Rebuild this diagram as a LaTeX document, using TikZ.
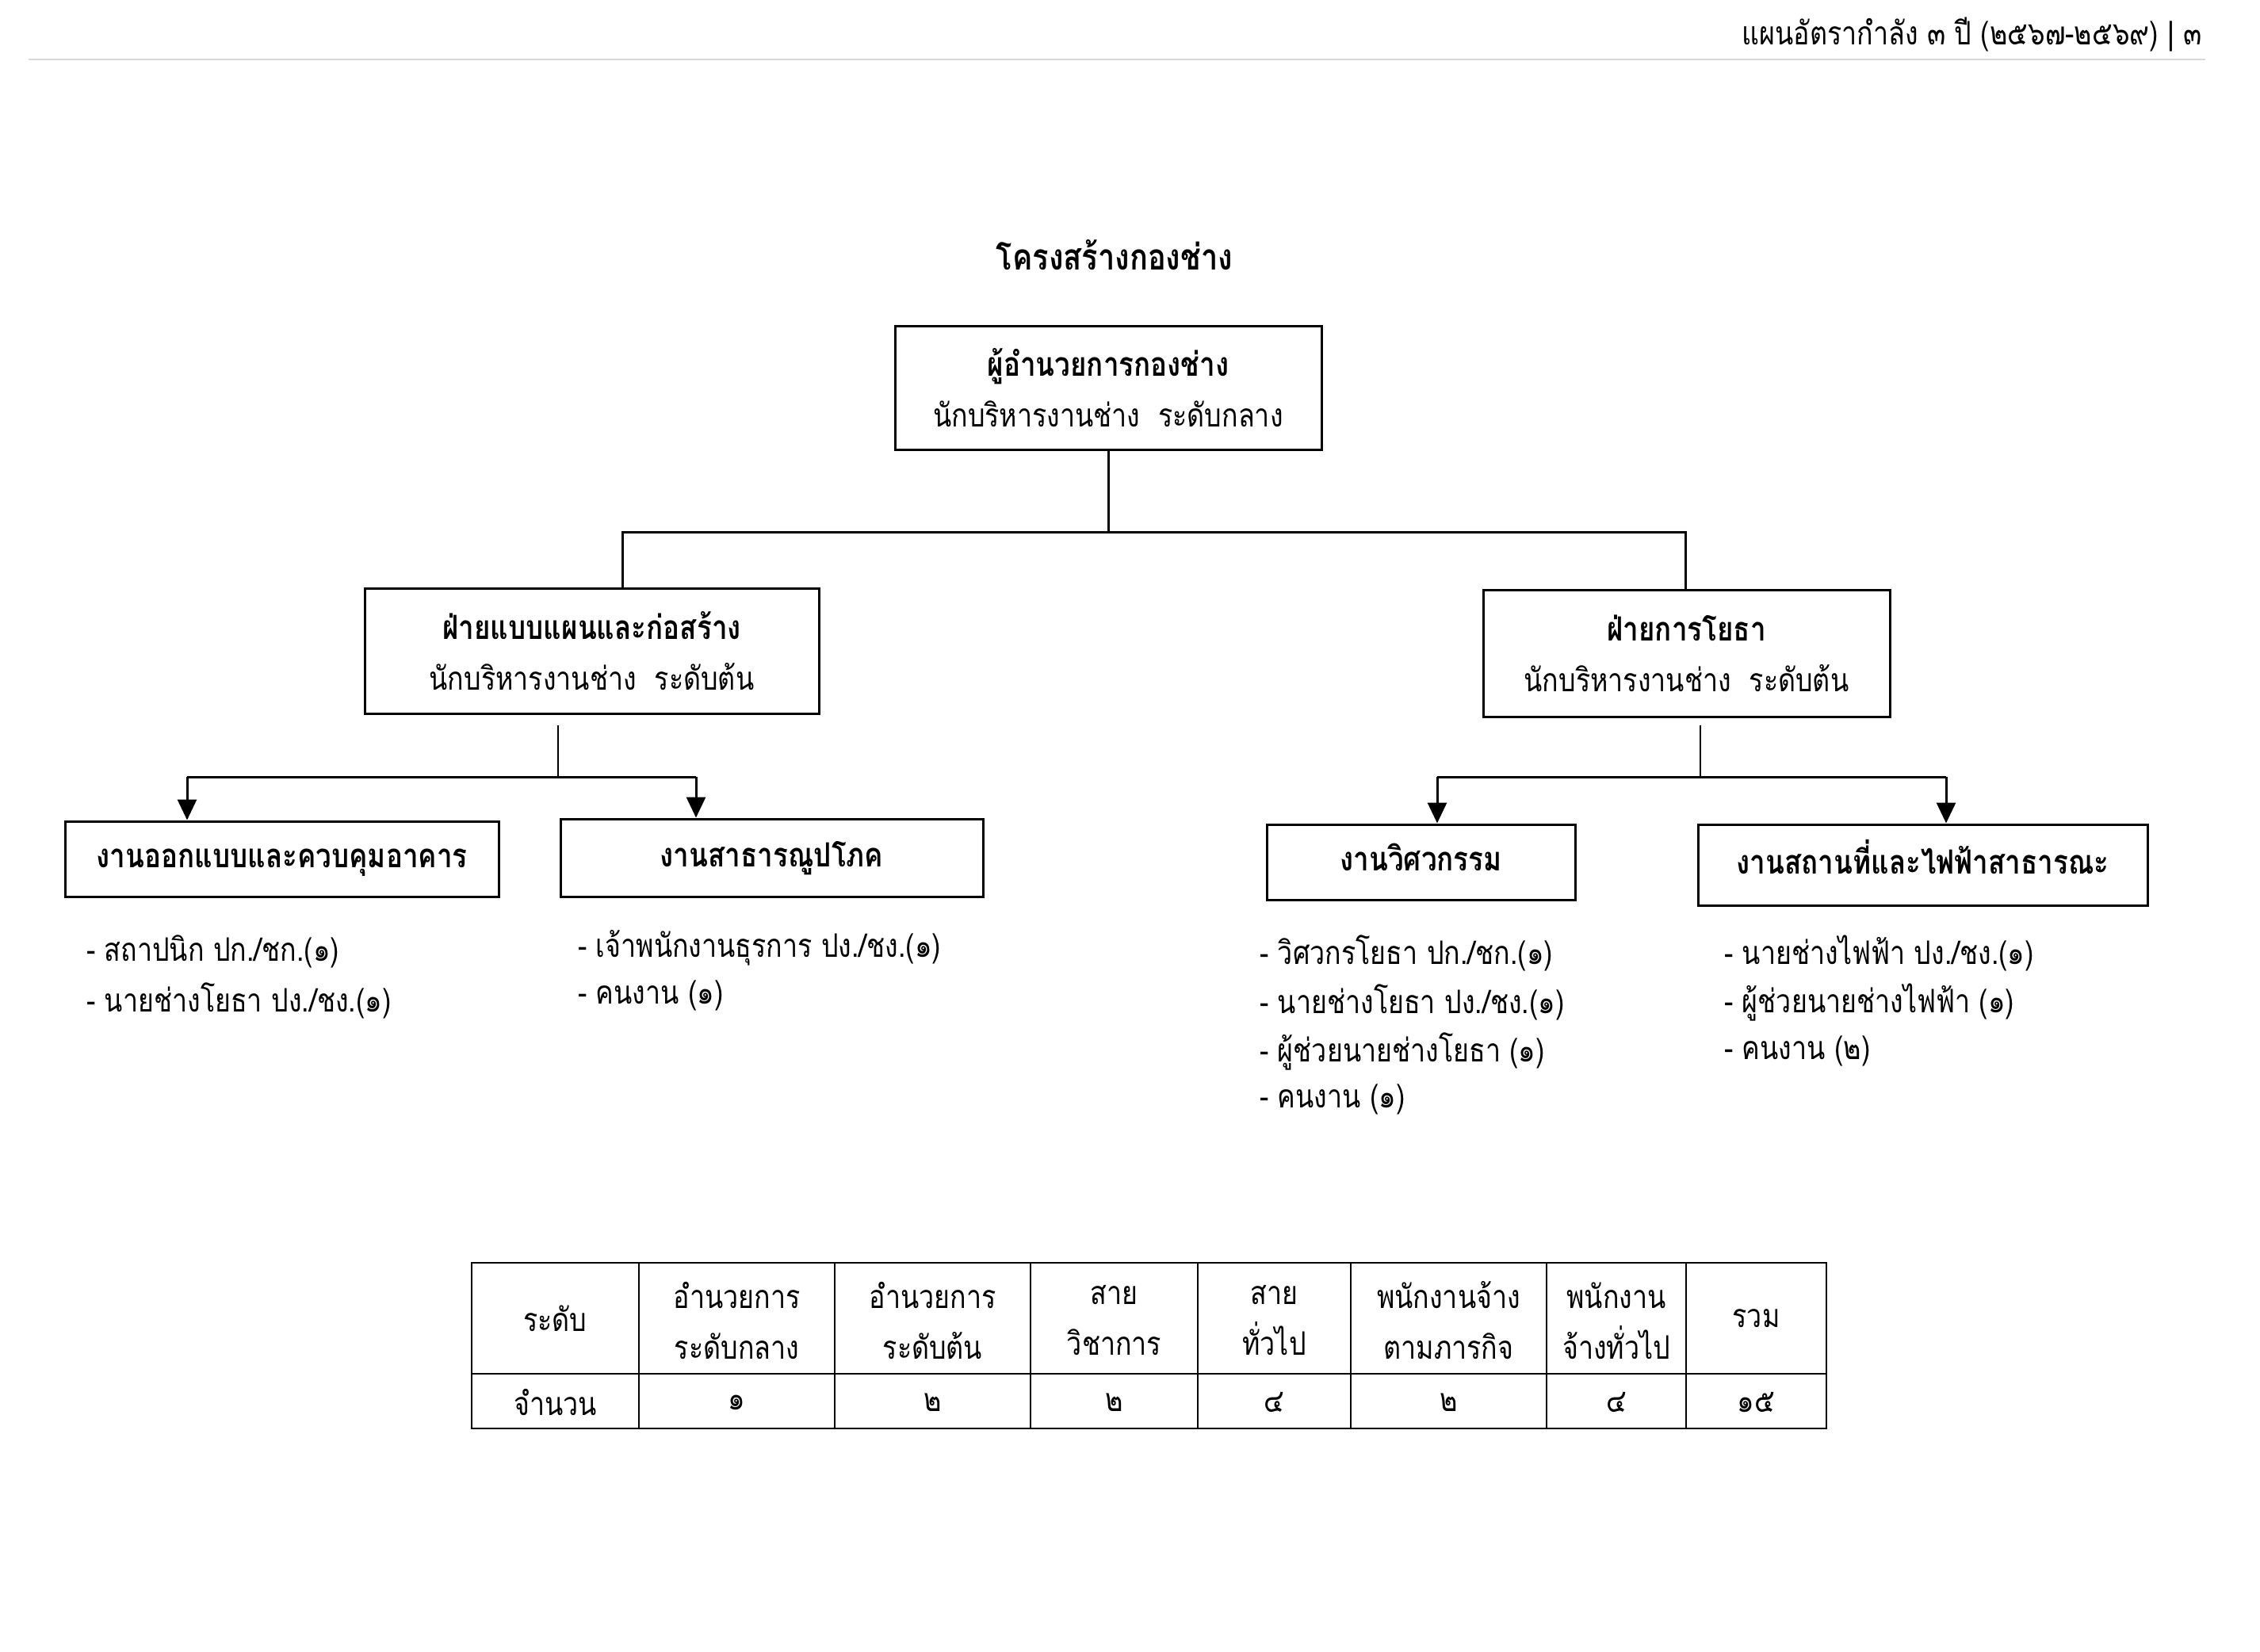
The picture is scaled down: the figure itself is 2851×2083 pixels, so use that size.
\documentclass[tikz,border=0pt]{standalone}
\usepackage{graphicx}
\usepackage{fontspec}
\newfontfamily\thai[Script=Thai]{Loma}
\newcommand\ys[1]{\scalebox{1}[1.2]{#1}}
\newcommand\bs[1]{\scalebox{1}[1.2]{\bfseries\fontsize{35}{64}\selectfont #1}}
\newcommand\bsl[1]{\raisebox{-11pt}[0pt][0pt]{\bs{#1}}}
\usetikzlibrary{arrows.meta}
\begin{document}
\begin{tikzpicture}[x=1pt,y=-1pt,
  txt/.style={font=\thai\fontsize{34}{64}\selectfont, align=center, inner sep=0pt},
  box/.style={draw, line width=3pt, txt},
  conn/.style={line width=3pt},
  thin/.style={line width=2pt},
  arr/.style={line width=3pt, -{Triangle[length=26pt,width=24pt]}},
  item/.style={txt, anchor=west, align=left},
  cell/.style={txt},
  tline/.style={line width=2pt}
]
\useasboundingbox (0,0) rectangle (2851,2083);
% header
\node[txt, anchor=east] (hdr) at (2778,44) {\ys{แผนอัตรากำลัง ๓ ปี (๒๕๖๗-๒๕๖๙) | ๓}};
\coordinate (hl) at (36,75);
\coordinate (hr) at (2782,75);
\draw[line width=2pt, black!15] (hl) -- (hr);
% title
\node[txt, font=\thai\bfseries\fontsize{38}{64}\selectfont] (title) at (1406,322) {\scalebox{1}[1.2]{โครงสร้างกองช่าง}};
% boxes
\node[box, minimum width=538, minimum height=156] (top) at (1398,489) {\bs{ผู้อำนวยการกองช่าง}\\\ys{นักบริหารงานช่าง\ \ ระดับกลาง}};
\node[box, minimum width=573, minimum height=158] (lm) at (746.5,821) {\bs{ฝ่ายแบบแผนและก่อสร้าง}\\\ys{นักบริหารงานช่าง\ \ ระดับต้น}};
\node[box, minimum width=513, minimum height=160] (rm) at (2127.5,824) {\bs{ฝ่ายการโยธา}\\\ys{นักบริหารงานช่าง\ \ ระดับต้น}};
\node[box, minimum width=547, minimum height=95] (ba) at (355.5,1083.5) {\bsl{งานออกแบบและควบคุมอาคาร}};
\node[box, minimum width=533, minimum height=98] (bb) at (973.5,1082) {\bsl{งานสาธารณูปโภค}};
\node[box, minimum width=389, minimum height=95] (bc) at (1792.5,1087.5) {\bsl{งานวิศวกรรม}};
\node[box, minimum width=567, minimum height=102] (bd) at (2425.5,1091) {\bsl{งานสถานที่และไฟฟ้าสาธารณะ}};
% top connectors
\coordinate (jl) at (785,671);
\coordinate (jr) at (2126,671);
\draw[conn] (top.south) -- (top.south |- jl);
\draw[conn] (jl |- lm.north) -- (jl) -- (jr) -- (jr |- rm.north);
% left sub connectors
\coordinate (ls) at (704,915);
\coordinate (la) at (236,980);
\coordinate (lb) at (878,980);
\draw[thin] (ls) -- (ls |- la);
\draw[conn] (la) -- (lb);
\draw[arr] (la) -- (la |- ba.north);
\draw[arr] (lb) -- (lb |- bb.north);
% right sub connectors
\coordinate (rs) at (2145,915);
\coordinate (rc) at (1813,980);
\coordinate (rd) at (2455,980);
\draw[thin] (rs) -- (rs |- rc);
\draw[conn] (rc) -- (rd);
\draw[arr] (rc) -- (rc |- bc.north);
\draw[arr] (rd) -- (rd |- bd.north);
% lists
\node[item] (a1) at (109,1200) {\ys{- สถาปนิก ปก./ชก.(๑)}};
\node[item] (a2) at (109,1262) {\ys{- นายช่างโยธา ปง./ชง.(๑)}};
\node[item] (b1) at (729,1196) {\ys{- เจ้าพนักงานธุรการ ปง./ชง.(๑)}};
\node[item] (b2) at (729,1256) {\ys{- คนงาน (๑)}};
\node[item] (c1) at (1589,1202) {\ys{- วิศวกรโยธา ปก./ชก.(๑)}};
\node[item] (c2) at (1589,1264) {\ys{- นายช่างโยธา ปง./ชง.(๑)}};
\node[item] (c3) at (1589,1326) {\ys{- ผู้ช่วยนายช่างโยธา (๑)}};
\node[item] (c4) at (1589,1387) {\ys{- คนงาน (๑)}};
\node[item] (d1) at (2175,1202) {\ys{- นายช่างไฟฟ้า ปง./ชง.(๑)}};
\node[item] (d2) at (2175,1264) {\ys{- ผู้ช่วยนายช่างไฟฟ้า (๑)}};
\node[item] (d3) at (2175,1326) {\ys{- คนงาน (๒)}};
% table
\draw[tline] (595,1593) rectangle (2304,1802);
\draw[tline] (595,1733) -- (2304,1733);
\foreach \x in {806,1053,1300,1511,1704,1951,2127} \draw[line width=1.5pt] (\x,1593) -- (\x,1802);
\node[cell] (h1) at (700.5,1663) {\ys{ระดับ}};
\node[cell] (h2) at (929.5,1666) {\ys{อำนวยการ}\\\ys{ระดับกลาง}};
\node[cell] (h3) at (1176.5,1666) {\ys{อำนวยการ}\\\ys{ระดับต้น}};
\node[cell] (h4) at (1405.5,1666) {\ys{สาย}\\\ys{วิชาการ}};
\node[cell] (h5) at (1607.5,1666) {\ys{สาย}\\\ys{ทั่วไป}};
\node[cell] (h6) at (1827.5,1666) {\ys{พนักงานจ้าง}\\\ys{ตามภารกิจ}};
\node[cell] (h7) at (2039,1666) {\ys{พนักงาน}\\\ys{จ้างทั่วไป}};
\node[cell] (h8) at (2215.5,1663) {\ys{รวม}};
\node[cell] (v1) at (700.5,1769) {\ys{จำนวน}};
\node[cell] (v2) at (929.5,1769) {\ys{๑}};
\node[cell] (v3) at (1176.5,1769) {\ys{๒}};
\node[cell] (v4) at (1405.5,1769) {\ys{๒}};
\node[cell] (v5) at (1607.5,1769) {\ys{๔}};
\node[cell] (v6) at (1827.5,1769) {\ys{๒}};
\node[cell] (v7) at (2039,1769) {\ys{๔}};
\node[cell] (v8) at (2215.5,1769) {\ys{๑๕}};
\end{tikzpicture}
\end{document}
